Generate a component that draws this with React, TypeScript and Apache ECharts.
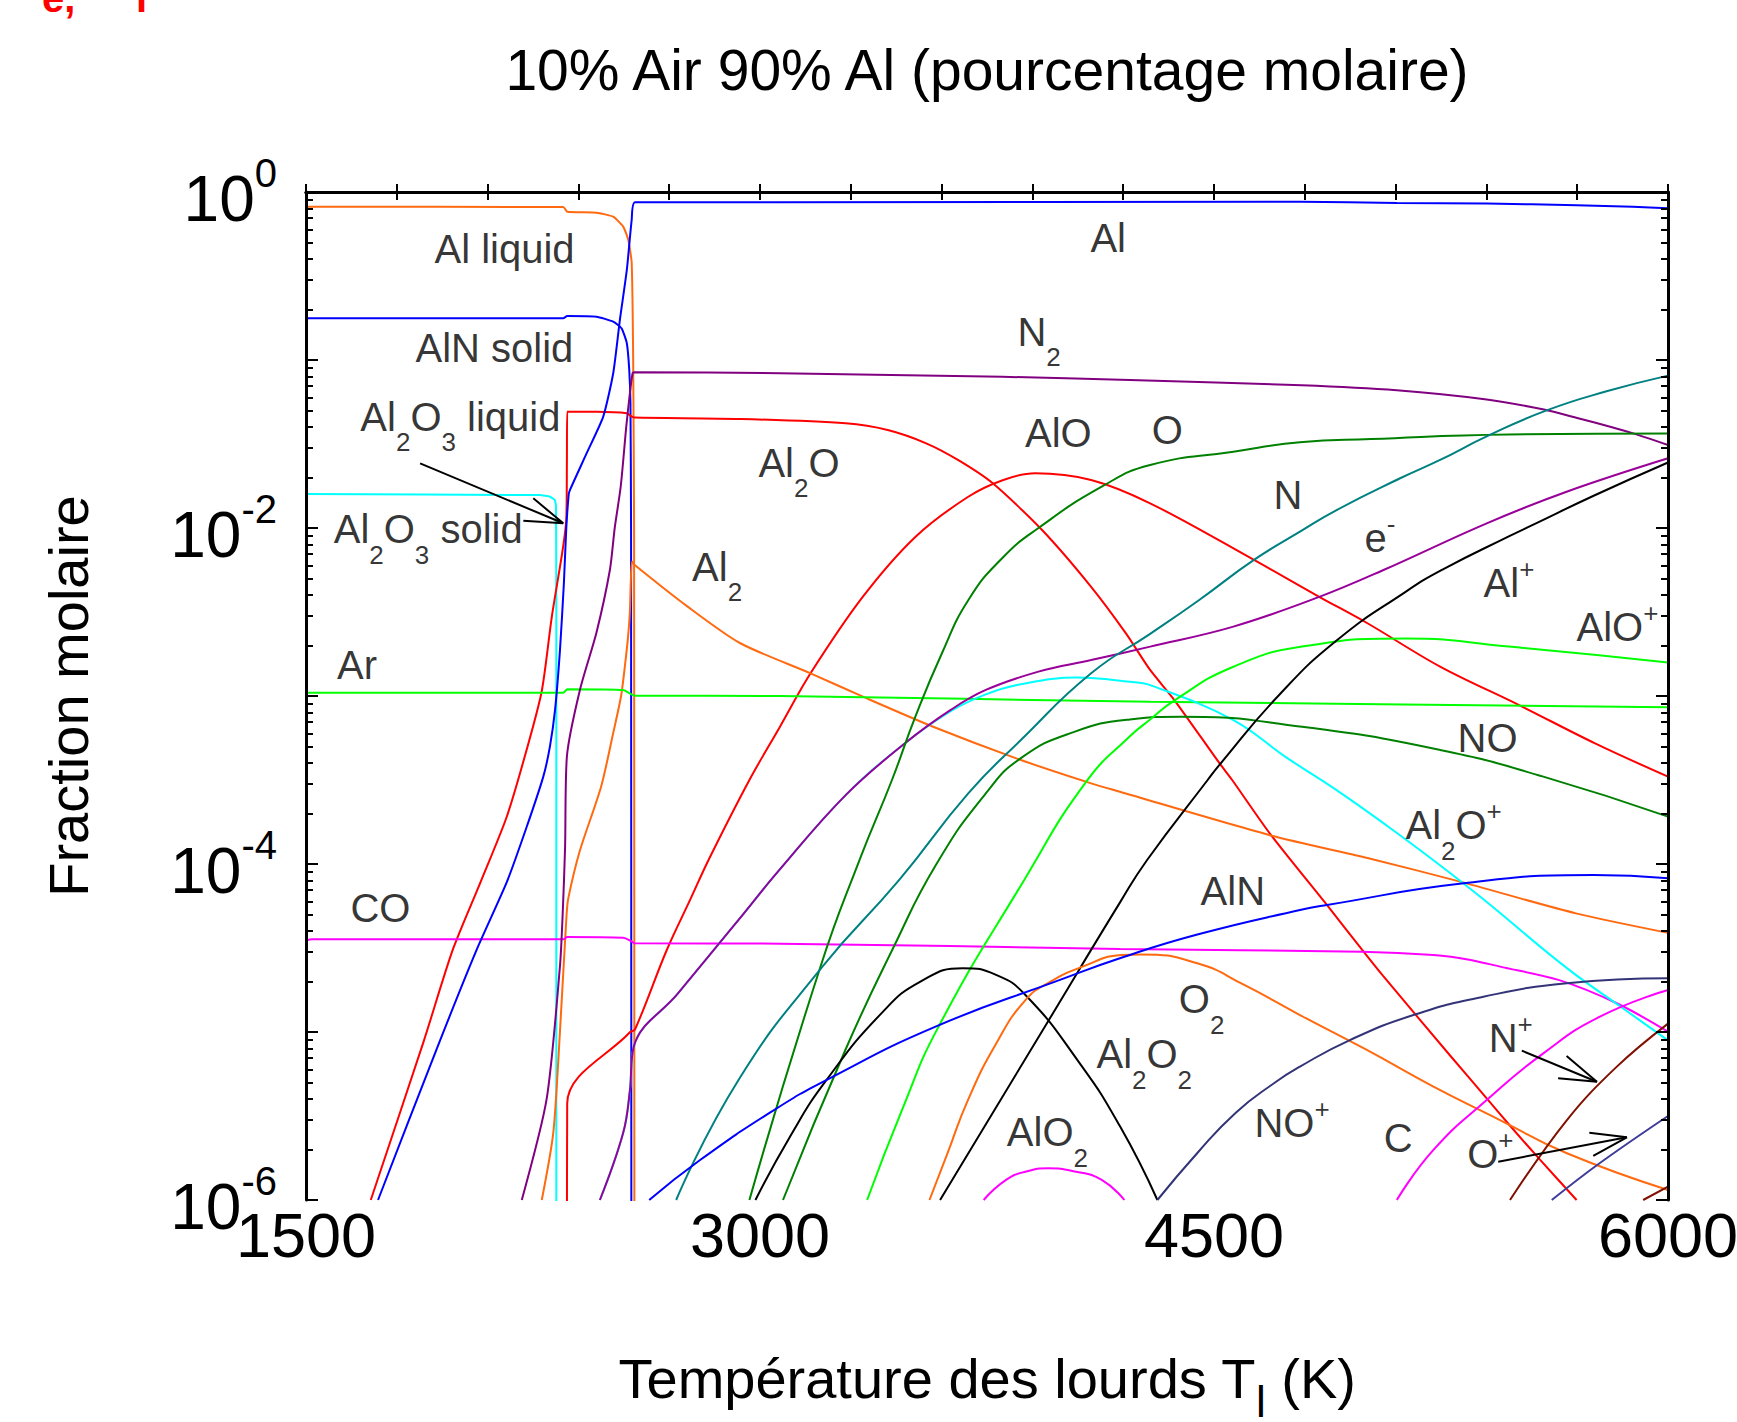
import React, { useEffect, useRef } from 'react';
import * as echarts from 'echarts';

const FONT = '"Liberation Sans", Arial, Helvetica, sans-serif';

const TITLE = '10% Air 90% Al (pourcentage molaire)';
const X_NAME = 'Température des lourds T{s|l} (K)';
const Y_NAME = 'Fraction molaire';

const T_MIN = 1500;
const T_MAX = 6000;
const T_STEP = 300;
const T_TICK_LABELS = [1500, 3000, 4500, 6000];
const EXP_MIN = -6;
const EXP_MAX = 0;
const EXP_TICK_LABELS = [-6, -4, -2, 0];

// Every curve: [temperature (K), log10(mole fraction)]
const alLiquid = [[1500,-0.088],[2350,-0.089],[2363,-0.117],[2460,-0.123],[2515,-0.147],[2548,-0.206],[2565,-0.286],[2576,-0.42],[2581,-1.0],[2584,-2.0],[2585,-6.5]];
const alnSolid = [[1500,-0.752],[2350,-0.752],[2363,-0.738],[2460,-0.742],[2515,-0.772],[2543,-0.812],[2560,-0.9],[2568,-1.06],[2572,-1.26],[2574,-2.0],[2575,-6.5]];
const al2o3Solid = [[1500,-1.798],[2273,-1.804],[2306,-1.814],[2322,-1.833],[2326,-1.87],[2327,-2.5],[2327,-6.5]];
const alGas = [[1738,-6.0],[1932,-5.1],[2064,-4.51],[2163,-4.11],[2229,-3.78],[2284,-3.48],[2306,-3.3],[2323,-3.08],[2339,-2.73],[2352,-2.33],[2360,-2.0],[2368,-1.8],[2372,-1.774],[2427,-1.556],[2482,-1.337],[2515,-1.079],[2537,-0.762],[2560,-0.464],[2576,-0.167],[2587,-0.061],[3066,-0.061],[4785,-0.058],[5104,-0.065],[5401,-0.069],[5698,-0.079],[5884,-0.088],[6000,-0.097]];
const al2o = [[1714,-6.0],[1888,-5.06],[1985,-4.51],[2075,-4.115],[2163,-3.72],[2229,-3.32],[2279,-2.97],[2312,-2.53],[2348,-2.13],[2360,-1.95],[2362,-1.6],[2363,-1.308],[2460,-1.308],[2560,-1.317],[2576,-1.337],[2587,-1.343],[2935,-1.351],[3283,-1.377],[3422,-1.417],[3549,-1.496],[3654,-1.595],[3769,-1.734],[3932,-2.012],[4094,-2.35],[4209,-2.627],[4289,-2.845],[4369,-3.024],[4518,-3.4],[4560,-3.5],[4688,-3.827],[4873,-4.244],[4989,-4.51],[5058,-4.665],[5280,-5.14],[5401,-5.395],[5484,-5.57],[5577,-5.76],[5698,-6.0]];
const alo = [[2362,-6.5],[2363,-5.425],[2571,-5.0],[2587,-4.985],[2692,-4.512],[2769,-4.214],[2830,-3.976],[2965,-3.5],[3066,-3.183],[3167,-2.865],[3340,-2.409],[3514,-2.052],[3688,-1.814],[3804,-1.714],[3909,-1.674],[4094,-1.714],[4289,-1.853],[4632,-2.19],[4843,-2.405],[5007,-2.567],[5247,-2.825],[5508,-3.054],[5759,-3.282],[6000,-3.48]];
const al2 = [[2279,-6.0],[2317,-5.6],[2339,-5.0],[2361,-4.3],[2367,-4.2],[2405,-3.92],[2475,-3.54],[2515,-3.22],[2541,-3.0],[2555,-2.8],[2565,-2.63],[2570,-2.5],[2577,-2.2],[2586,-2.22],[2761,-2.468],[2935,-2.686],[3167,-2.865],[3340,-3.004],[3572,-3.183],[3862,-3.381],[4094,-3.52],[4189,-3.57],[4688,-3.83],[5020,-3.97],[5313,-4.105],[5696,-4.294],[6000,-4.41]];
const ar = [[1500,-2.98],[2350,-2.98],[2363,-2.96],[2548,-2.965],[2575,-2.99],[2587,-2.998],[3066,-3.0],[4289,-3.034],[6000,-3.067]];
const co = [[1500,-4.456],[1520,-4.448],[2350,-4.448],[2363,-4.435],[2548,-4.439],[2575,-4.46],[2587,-4.472],[3066,-4.474],[4189,-4.506],[4989,-4.522],[5225,-4.542],[5348,-4.571],[5445,-4.611],[5638,-4.69],[5831,-4.829],[6000,-4.998]];
const n2 = [[2213,-6.0],[2295,-5.4],[2339,-4.61],[2348,-4.3],[2356,-3.9],[2362,-3.36],[2405,-2.964],[2460,-2.62],[2504,-2.25],[2520,-2.0],[2540,-1.75],[2558,-1.4],[2570,-1.2],[2579,-1.079],[2584,-1.073],[3066,-1.079],[3800,-1.1],[4222,-1.119],[4790,-1.15],[5104,-1.18],[5401,-1.235],[5590,-1.295],[5700,-1.345],[5815,-1.4],[5885,-1.437],[6000,-1.506]];
const electrons = [[2471,-6.0],[2548,-5.6],[2570,-5.35],[2583,-5.087],[2729,-4.77],[2929,-4.333],[3062,-4.04],[3283,-3.59],[3480,-3.28],[3630,-3.083],[3746,-2.964],[3920,-2.855],[4094,-2.786],[4289,-2.706],[4564,-2.587],[4848,-2.41],[5060,-2.25],[5401,-1.972],[5665,-1.784],[6000,-1.585]];
const al2oPlus = [[2471,-6.0],[2548,-5.6],[2570,-5.35],[2583,-5.087],[2729,-4.77],[2929,-4.333],[3062,-4.04],[3283,-3.59],[3480,-3.28],[3630,-3.09],[3746,-2.99],[3862,-2.93],[4047,-2.89],[4222,-2.915],[4289,-2.935],[4564,-3.143],[4735,-3.361],[4905,-3.56],[5076,-3.778],[5224,-3.976],[5390,-4.21],[5666,-4.62],[5852,-4.86],[6000,-5.05]];
const o = [[2965,-6.0],[3200,-4.61],[3329,-3.976],[3436,-3.5],[3514,-3.12],[3600,-2.75],[3688,-2.43],[3800,-2.18],[3920,-2.0],[4129,-1.754],[4289,-1.625],[4564,-1.546],[4784,-1.49],[5019,-1.47],[5474,-1.443],[6000,-1.437]];
const no = [[3076,-6.0],[3282,-5.107],[3440,-4.5],[3583,-4.0],[3746,-3.58],[3862,-3.37],[4036,-3.215],[4222,-3.14],[4393,-3.123],[4791,-3.183],[5247,-3.321],[5588,-3.48],[6000,-3.718]];
const n = [[2723,-6.0],[2929,-5.286],[3207,-4.61],[3460,-4.095],[3688,-3.58],[3862,-3.262],[4094,-2.865],[4289,-2.63],[4450,-2.43],[4632,-2.19],[4784,-2.022],[4905,-1.893],[5115,-1.704],[5247,-1.595],[5401,-1.455],[5599,-1.3],[5800,-1.185],[6000,-1.093]];
const aloPlus = [[3354,-6.0],[3470,-5.46],[3590,-4.968],[3873,-4.095],[4078,-3.51],[4222,-3.24],[4289,-3.14],[4371,-3.024],[4564,-2.826],[4791,-2.706],[5133,-2.657],[5474,-2.706],[6000,-2.8]];
const alPlus = [[3595,-6.0],[3954,-4.93],[4189,-4.23],[4279,-3.976],[4479,-3.5],[4518,-3.41],[4712,-3.0],[4905,-2.67],[5133,-2.38],[5258,-2.245],[5474,-2.05],[5555,-1.98],[5758,-1.805],[6000,-1.61]];
const al2o2 = [[2985,-6.0],[3100,-5.62],[3218,-5.29],[3401,-4.889],[3530,-4.7],[3670,-4.62],[3780,-4.66],[3877,-4.78],[4050,-5.17],[4189,-5.56],[4313,-6.0]];
const alo2 = [[3739,-6.0],[3813,-5.88],[3880,-5.83],[3952,-5.811],[4040,-5.83],[4129,-5.88],[4204,-6.0]];
const o2 = [[3560,-6.0],[3620,-5.72],[3687,-5.405],[3780,-5.07],[3877,-4.81],[3960,-4.7],[4066,-4.611],[4193,-4.542],[4256,-4.538],[4445,-4.591],[4600,-4.72],[4784,-4.899],[5005,-5.107],[5225,-5.325],[5445,-5.524],[5666,-5.722],[6000,-5.94]];
const alnGas = [[2634,-6.0],[2802,-5.762],[3047,-5.464],[3219,-5.286],[3580,-4.968],[3991,-4.69],[4189,-4.561],[4445,-4.42],[4784,-4.274],[4873,-4.244],[5325,-4.115],[5754,-4.065],[6000,-4.085]];
const noPlus = [[4313,-6.0],[4445,-5.72],[4572,-5.48],[4698,-5.305],[4784,-5.206],[4949,-5.048],[5159,-4.899],[5390,-4.79],[5666,-4.71],[6000,-4.68]];
const cAtom = [[5104,-6.0],[5225,-5.702],[5401,-5.405],[5588,-5.127],[5775,-4.909],[6000,-4.75]];
const nPlus = [[5478,-6.0],[5666,-5.524],[5831,-5.206],[6000,-4.95]];
const oPlus = [[5616,-6.0],[5775,-5.78],[6000,-5.5]];
const n2Plus = [[5918,-6.0],[6000,-5.92]];

// Annotation arrows: [temperature (K), log10(mole fraction)]
const arrowAl2O3Liquid = [[1877,-1.615],[2350,-1.972],[2251,-1.823]];
const arrowAl2O3Solid = [[2218,-1.957],[2350,-1.972]];
const arrowNPlusShaft = [[5517,-5.111],[5765,-5.296]];
const arrowNPlusHead = [[5665,-5.143],[5765,-5.296],[5637,-5.276]];
const arrowOPlusShaft = [[5439,-5.772],[5864,-5.627]];
const arrowOPlusHead = [[5740,-5.6],[5864,-5.627],[5753,-5.738]];

// Species labels: text, anchor temperature, anchor log10 value
const LABELS: [string, number, number][] = [
  ['Al liquid', 1923, -0.339],
  ['AlN solid', 1860, -0.929],
  ['Al{sub|2}O{sub|3} liquid', 1678, -1.339],
  ['Al{sub|2}O{sub|3} solid', 1590, -2.006],
  ['Ar', 1601, -2.815],
  ['CO', 1645, -4.259],
  ['Al', 4090, -0.274],
  ['N{sub|2}', 3849, -0.833],
  ['AlO', 3874, -1.432],
  ['O', 4293, -1.417],
  ['Al{sub|2}O', 2993, -1.613],
  ['N', 4695, -1.804],
  ['e{sup|-}', 4996, -2.058],
  ['Al{sup|+}', 5389, -2.329],
  ['AlO{sup|+}', 5696, -2.588],
  ['Al{sub|2}', 2774, -2.232],
  ['NO', 5303, -3.252],
  ['Al{sub|2}O{sup|+}', 5131, -3.768],
  ['AlN', 4454, -4.16],
  ['O{sub|2}', 4382, -4.804],
  ['Al{sub|2}O{sub|2}', 4110, -5.131],
  ['AlO{sub|2}', 3814, -5.598],
  ['NO{sup|+}', 4632, -5.539],
  ['C', 5059, -5.628],
  ['N{sup|+}', 5406, -5.038],
  ['O{sup|+}', 5335, -5.726],
];

const COL = {
  orange: '#ff6a10',
  blue: '#0000ff',
  red: '#ff0000',
  cyan: '#00ffff',
  purple: '#800080',
  violet: '#990099',
  green: '#008000',
  teal: '#008080',
  lime: '#00ff00',
  magenta: '#ff00ff',
  black: '#000000',
  navy: '#333377',
  slate: '#3c3c99',
  brown: '#801000',
};

// smooth: rendering tension used by the line (no extra points are created)
const CURVES: { name: string; color: string; data: number[][]; smooth: number }[] = [
  { name: 'Al liquid', color: COL.orange, data: alLiquid, smooth: 0.15 },
  { name: 'AlN solid', color: COL.blue, data: alnSolid, smooth: 0.15 },
  { name: 'Al2O3 solid', color: COL.cyan, data: al2o3Solid, smooth: 0.1 },
  { name: 'Al2O3 liquid / Al2O', color: COL.red, data: al2o, smooth: 0.25 },
  { name: 'AlO', color: COL.red, data: alo, smooth: 0.35 },
  { name: 'Al2', color: COL.orange, data: al2, smooth: 0.25 },
  { name: 'Ar', color: COL.lime, data: ar, smooth: 0.15 },
  { name: 'CO', color: COL.magenta, data: co, smooth: 0.3 },
  { name: 'N2', color: COL.purple, data: n2, smooth: 0.25 },
  { name: 'Al2O+', color: COL.cyan, data: al2oPlus, smooth: 0.4 },
  { name: 'e-', color: COL.violet, data: electrons, smooth: 0.4 },
  { name: 'O', color: COL.green, data: o, smooth: 0.5 },
  { name: 'NO', color: COL.green, data: no, smooth: 0.5 },
  { name: 'N', color: COL.teal, data: n, smooth: 0.5 },
  { name: 'AlO+', color: COL.lime, data: aloPlus, smooth: 0.5 },
  { name: 'Al+', color: COL.black, data: alPlus, smooth: 0.5 },
  { name: 'Al2O2', color: COL.black, data: al2o2, smooth: 0.5 },
  { name: 'AlO2', color: COL.magenta, data: alo2, smooth: 0.5 },
  { name: 'O2', color: COL.orange, data: o2, smooth: 0.5 },
  { name: 'AlN', color: COL.blue, data: alnGas, smooth: 0.5 },
  { name: 'NO+', color: COL.navy, data: noPlus, smooth: 0.5 },
  { name: 'C', color: COL.magenta, data: cAtom, smooth: 0.5 },
  { name: 'N+', color: COL.brown, data: nPlus, smooth: 0.4 },
  { name: 'O+', color: COL.slate, data: oPlus, smooth: 0.4 },
  { name: 'N2+', color: COL.brown, data: n2Plus, smooth: 0 },
  { name: 'Al', color: COL.blue, data: alGas, smooth: 0.2 },
];

const ARROWS = [arrowAl2O3Liquid, arrowAl2O3Solid, arrowNPlusShaft, arrowNPlusHead, arrowOPlusShaft, arrowOPlusHead];

const toPoints = (arr: number[][]) => arr.map(([t, e]) => [t, Math.pow(10, e)]);

const MINOR_EXP: number[] = [];
for (let d = EXP_MIN; d < EXP_MAX; d++) {
  for (let k = 2; k <= 9; k++) MINOR_EXP.push(d + Math.log10(k));
}

const LABEL_RICH = {
  sub: { fontSize: 26, lineHeight: 26, padding: [51, 0, 0, 0], fontFamily: FONT, color: '#000' },
  sup: { fontSize: 26, lineHeight: 26, padding: [0, 0, 28, 0], fontFamily: FONT, color: '#000' },
};

function buildOption() {
  const lineSeries = CURVES.map((c) => ({
    type: 'line',
    name: c.name,
    xAxisIndex: 0,
    yAxisIndex: 0,
    data: toPoints(c.data),
    showSymbol: false,
    symbol: 'none',
    smooth: c.smooth > 0 ? c.smooth : false,
    clip: true,
    silent: true,
    z: 2,
    lineStyle: { color: c.color, width: 2 },
    itemStyle: { color: c.color },
  }));
  const arrowSeries = ARROWS.map((a, i) => ({
    type: 'line',
    name: 'arrow' + i,
    xAxisIndex: 0,
    yAxisIndex: 0,
    data: toPoints(a),
    showSymbol: false,
    symbol: 'none',
    silent: true,
    z: 3,
    lineStyle: { color: '#000', width: 2 },
  }));
  const labelSeries = {
    type: 'scatter',
    name: 'labels',
    xAxisIndex: 0,
    yAxisIndex: 0,
    symbolSize: 1,
    silent: true,
    z: 4,
    itemStyle: { color: 'rgba(0,0,0,0)' },
    data: LABELS.map(([txt, t, e]) => ({ name: txt, value: [t, Math.pow(10, e)] })),
    label: {
      show: true,
      position: 'right',
      distance: 0,
      color: '#000',
      fontSize: 40,
      lineHeight: 40,
      fontFamily: FONT,
      formatter: (p: any) => p.name,
      rich: LABEL_RICH,
    },
  };

  const hiddenAxisParts = {
    axisLine: { show: false },
    axisTick: { show: false },
    axisLabel: { show: false },
    splitLine: { show: false },
  };

  return {
    animation: false,
    backgroundColor: '#ffffff',
    grid: { left: 306, top: 192, width: 1362, height: 1008, outerBoundsMode: 'none', containLabel: false },
    xAxis: [
      {
        type: 'value',
        position: 'bottom',
        min: T_MIN,
        max: T_MAX,
        interval: T_STEP,
        z: 10,
        axisLine: { show: true, lineStyle: { color: '#000', width: 3 } },
        axisTick: { show: true, inside: true, length: 8, lineStyle: { color: '#000', width: 2 } },
        axisLabel: {
          show: true,
          margin: 3,
          color: '#000',
          fontSize: 63,
          fontFamily: FONT,
          showMinLabel: true,
          showMaxLabel: true,
          formatter: (v: number) => (T_TICK_LABELS.includes(v) ? String(v) : ''),
        },
        splitLine: { show: false },
        name: X_NAME,
        nameLocation: 'middle',
        nameGap: 150,
        nameMoveOverlap: false,
        nameTextStyle: {
          color: '#000',
          fontSize: 56,
          lineHeight: 56,
          fontFamily: FONT,
          rich: { s: { fontSize: 44, lineHeight: 44, padding: [46, 0, 0, 0], fontFamily: FONT, color: '#000' } },
        },
      },
      {
        type: 'value',
        position: 'top',
        min: T_MIN,
        max: T_MAX,
        interval: T_STEP,
        z: 10,
        axisLine: { show: true, lineStyle: { color: '#000', width: 3 } },
        axisTick: { show: true, inside: true, length: 8, lineStyle: { color: '#000', width: 2 } },
        axisLabel: { show: false },
        splitLine: { show: false },
      },
    ],
    yAxis: [
      { type: 'log', logBase: 10, min: Math.pow(10, EXP_MIN), max: Math.pow(10, EXP_MAX), ...hiddenAxisParts },
      {
        type: 'value',
        position: 'left',
        min: EXP_MIN,
        max: EXP_MAX,
        interval: 1,
        z: 10,
        axisLine: { show: true, lineStyle: { color: '#000', width: 3 } },
        axisTick: { show: true, inside: true, length: 12, lineStyle: { color: '#000', width: 2 } },
        axisLabel: {
          show: true,
          margin: 29,
          color: '#000',
          fontFamily: FONT,
          showMinLabel: true,
          showMaxLabel: true,
          formatter: (v: number) => (EXP_TICK_LABELS.includes(Math.round(v)) ? `{b|10}{p|${Math.round(v)}}` : ''),
          rich: {
            b: { fontSize: 64, lineHeight: 64, padding: [14, 0, 0, 0], fontFamily: FONT, color: '#000' },
            p: { fontSize: 40, lineHeight: 40, padding: [0, 0, 38, 0], fontFamily: FONT, color: '#000' },
          },
        },
        splitLine: { show: false },
        name: Y_NAME,
        nameLocation: 'middle',
        nameGap: 210,
        nameRotate: 90,
        nameMoveOverlap: false,
        nameTextStyle: { color: '#000', fontSize: 56, lineHeight: 56, fontFamily: FONT },
      },
      {
        type: 'value',
        position: 'right',
        min: EXP_MIN,
        max: EXP_MAX,
        interval: 1,
        z: 10,
        axisLine: { show: true, lineStyle: { color: '#000', width: 3 } },
        axisTick: { show: true, inside: true, length: 12, lineStyle: { color: '#000', width: 2 } },
        axisLabel: { show: false },
        splitLine: { show: false },
      },
      {
        type: 'value',
        position: 'left',
        min: EXP_MIN,
        max: EXP_MAX,
        interval: 1,
        z: 10,
        axisLine: { show: false },
        axisTick: { show: true, inside: true, length: 7, customValues: MINOR_EXP, lineStyle: { color: '#000', width: 2 } },
        axisLabel: { show: false },
        splitLine: { show: false },
      },
      {
        type: 'value',
        position: 'right',
        min: EXP_MIN,
        max: EXP_MAX,
        interval: 1,
        z: 10,
        axisLine: { show: false },
        axisTick: { show: true, inside: true, length: 7, customValues: MINOR_EXP, lineStyle: { color: '#000', width: 2 } },
        axisLabel: { show: false },
        splitLine: { show: false },
      },
    ],
    graphic: [
      {
        type: 'text',
        x: 987,
        y: 70,
        z: 10,
        style: { text: TITLE, fill: '#000', font: `57px ${FONT}`, textAlign: 'center', textVerticalAlign: 'middle' },
      },
      {
        type: 'text',
        x: 42,
        y: -2,
        z: 10,
        style: { text: 'e,', fill: '#ff0000', font: `bold 40px ${FONT}`, textAlign: 'left', textVerticalAlign: 'middle' },
      },
      {
        type: 'text',
        x: 136,
        y: -2,
        z: 10,
        style: { text: 'l', fill: '#ff0000', font: `bold 40px ${FONT}`, textAlign: 'left', textVerticalAlign: 'middle' },
      },
    ],
    series: [...lineSeries, ...arrowSeries, labelSeries],
  };
}

export default function App() {
  const ref = useRef<HTMLDivElement>(null);
  useEffect(() => {
    if (!ref.current) return;
    const chart = echarts.init(ref.current, undefined, { renderer: 'svg', width: 1737, height: 1422 });
    chart.setOption(buildOption() as any);
    return () => chart.dispose();
  }, []);
  return (
    <div
      ref={ref}
      style={{ position: 'absolute', left: 0, top: 0, width: 1737, height: 1422, background: '#ffffff' }}
    />
  );
}
